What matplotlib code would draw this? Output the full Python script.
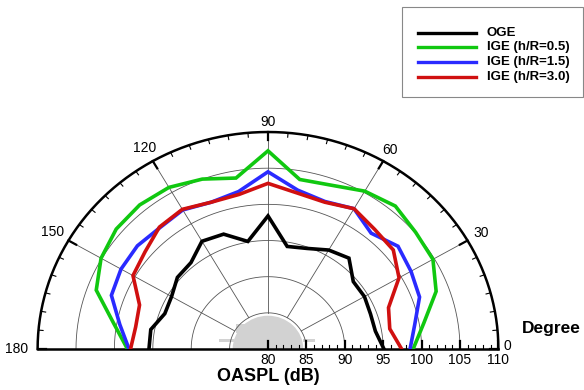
# OASPL directivity: OGE vs IGE at three rotor heights
# Half polar plot drawn on plain axes (radius = OASPL - 80 dB).

import numpy as np
import matplotlib.pyplot as plt
from matplotlib.patches import Rectangle, Wedge
from matplotlib.lines import Line2D

plt.rcParams['font.family'] = ['Liberation Sans', 'DejaVu Sans']

# ###########################################################
# Data (dB at each angle in degrees)
angles = [0, 10, 20, 30, 40, 50, 60, 70, 80, 90,
          100, 110, 120, 130, 140, 150, 160, 170, 180]

oge = [95.1, 94.2, 94.2, 94.5, 94.5, 96.4, 95.8, 94.8, 94.4, 98.4,
       95.1, 96.9, 97.2, 95.6, 95.4, 94.5, 94.3, 95.5, 95.5]
ige_05 = [98.9, 100.6, 103.3, 104.8, 105.1, 105.8, 105.2, 104.1, 103.8, 107.4,
          104.0, 105.0, 105.8, 106.0, 105.8, 105.1, 103.8, 100.4, 98.3]
ige_15 = [98.5, 99.4, 101.0, 101.5, 102.1, 100.9, 102.4, 101.7, 102.3, 104.5,
          102.1, 101.6, 102.2, 101.9, 102.2, 102.1, 101.7, 99.6, 98.1]
ige_30 = [97.4, 96.1, 96.7, 99.7, 101.3, 101.6, 102.4, 101.6, 101.9, 102.9,
          101.7, 101.6, 102.3, 102.0, 100.9, 100.3, 97.8, 97.5, 97.9]

labels = ['OGE', 'IGE (h/R=0.5)', 'IGE (h/R=1.5)', 'IGE (h/R=3.0)']
colours = ['black', '#10c810', '#2a2aff', '#d01010']

r_min = 80
r_max = 110
r_ticks = [80, 85, 90, 95, 100, 105, 110]
angle_ticks = [0, 30, 60, 90, 120, 150, 180]

# ###########################################################
fig = plt.figure(figsize=(5.84, 3.9), dpi=100)
ax = fig.add_axes([0.0644, 0.1051, 0.789, 0.5564])
ax.set_xlim(-(r_max - r_min), r_max - r_min)
ax.set_ylim(0, r_max - r_min)
ax.axis('off')

R = r_max - r_min
th = np.radians(np.linspace(0, 180, 361))

# grey rotor sketch at the centre
ax.add_patch(Wedge((0, 0), 4.6, 0, 180, facecolor='#d2d2d2', edgecolor='none', zorder=1))
ax.add_patch(Rectangle((-6.4, 1.0), 2.0, 0.35, facecolor='#d2d2d2', edgecolor='none', zorder=1))
ax.add_patch(Rectangle((4.5, 1.0), 1.6, 0.35, facecolor='#d2d2d2', edgecolor='none', zorder=1))
ax.add_patch(Rectangle((-4.2, 2.2), 1.5, 1.3, facecolor='#d2d2d2', edgecolor='none', zorder=1))

# grid circles
for rr in r_ticks[1:-1]:
    ax.plot((rr - r_min) * np.cos(th), (rr - r_min) * np.sin(th),
            color='#555555', lw=0.6, zorder=2)

# spokes
for a in angle_ticks[1:-1]:
    t = np.radians(a)
    ax.plot([5 * np.cos(t), R * np.cos(t)], [5 * np.sin(t), R * np.sin(t)],
            color='#555555', lw=0.6, zorder=2)

# outer arc and base line
ax.plot(R * np.cos(th), R * np.sin(th), color='black', lw=1.8, clip_on=False, zorder=5)
ax.plot([-R, R], [0, 0], color='black', lw=1.8, clip_on=False, zorder=5)

# ticks on the outer arc (minor every 5 deg, major every 30 deg)
for a in range(0, 181, 5):
    t = np.radians(a)
    ln = 1.15 if a % 30 == 0 else 0.6
    lw = 1.6 if a % 30 == 0 else 0.8
    ax.plot([R * np.cos(t), (R - ln) * np.cos(t)], [R * np.sin(t), (R - ln) * np.sin(t)],
            color='black', lw=lw, clip_on=False, zorder=5)

# ticks on the radial axis (right side)
for v in range(r_min, r_max + 1):
    ln = 1.1 if v % 5 == 0 else 0.55
    lw = 1.6 if v % 5 == 0 else 0.8
    ax.plot([v - r_min, v - r_min], [0, ln], color='black', lw=lw, zorder=5)

# data curves
t = np.radians(angles)
for vals, lab, col in zip([oge, ige_05, ige_15, ige_30], labels, colours):
    rr = np.array(vals) - r_min
    ax.plot(rr * np.cos(t), rr * np.sin(t), color=col, lw=2.6, zorder=6,
            solid_joinstyle='miter')

# angle labels
ax.text(0, 31.35, '90', ha='center', va='center', fontsize=10)
for a, rr in [(30, 32.0), (60, 31.8), (120, 32.1), (150, 32.4)]:
    tt = np.radians(a)
    ax.text(rr * np.cos(tt), rr * np.sin(tt), str(a), ha='center', va='center', fontsize=10)
ax.text(-32.7, 0, '180', ha='center', va='center', fontsize=10)
ax.text(31.2, 0.4, '0', ha='center', va='center', fontsize=10)

# radial labels
for v in r_ticks:
    ax.text(v - r_min, -1.55, str(v), ha='center', va='center', fontsize=10)

ax.text(0, -3.8, 'OASPL (dB)', ha='center', va='center', fontsize=13, fontweight='bold')
fig.text(551 / 584, 1 - 328 / 390, 'Degree', ha='center', va='center',
         fontsize=12.5, fontweight='bold')

# legend box, drawn by hand to match the layout
fig.patches.append(Rectangle((402 / 584, 1 - 97 / 390), 181 / 584, 90 / 390,
                             transform=fig.transFigure, facecolor='white',
                             edgecolor='#888888', lw=0.8))
ys = [32.7, 47.3, 61.7, 76.7]
for y, lab, col in zip(ys, labels, colours):
    fig.lines.append(Line2D([418 / 584, 476 / 584], [1 - y / 390, 1 - y / 390],
                            transform=fig.transFigure, color=col, lw=2.4))
    fig.text(487 / 584, 1 - y / 390, lab, ha='left', va='center', fontsize=9.5,
             fontweight='bold')

fig.savefig('out.png', dpi=100)
